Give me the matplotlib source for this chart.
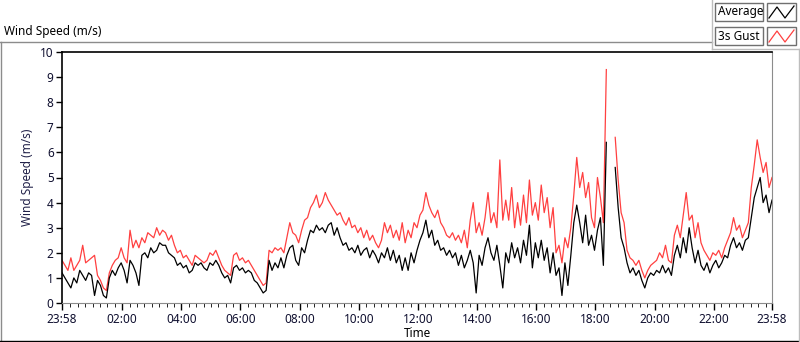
import numpy as np
import matplotlib.pyplot as plt
from matplotlib.lines import Line2D
from matplotlib.patches import Rectangle

W, H = 800, 342

# wind speed samples, one every 6 minutes starting 23:58 (m/s)
avg_speed = [
    1.2, 1.0, 0.8, 0.6, 1.0, 0.8, 1.3, 1.1, 0.9, 1.2,
    1.1, 0.3, 0.9, 0.7, 0.3, 0.2, 1.0, 1.3, 1.1, 1.4,
    1.6, 1.3, 0.8, 1.7, 1.5, 1.2, 0.7, 1.9, 2.0, 1.8,
    2.2, 2.0, 2.1, 2.4, 2.3, 2.3, 2.0, 1.9, 1.8, 1.5,
    1.6, 1.4, 1.5, 1.2, 1.3, 1.6, 1.5, 1.6, 1.4, 1.3,
    1.6, 1.5, 1.7, 1.5, 1.2, 1.0, 1.1, 0.8, 1.4, 1.5,
    1.3, 1.4, 1.2, 1.3, 1.2, 0.9, 0.8, 0.6, 0.4, 0.5,
    1.7, 1.3, 1.6, 1.4, 1.8, 1.4, 1.9, 2.2, 2.3, 1.7,
    1.5, 2.2, 2.0, 2.5, 2.9, 2.8, 3.1, 2.9, 3.0, 2.8,
    3.1, 3.2, 2.7, 3.0, 2.6, 2.3, 2.4, 2.1, 2.2, 2.0,
    2.3, 1.9, 2.1, 2.2, 1.8, 2.1, 1.9, 1.6, 2.0, 1.8,
    2.2, 1.7, 2.1, 1.6, 1.9, 1.3, 1.8, 1.3, 2.0, 1.6,
    2.1, 2.5, 2.8, 3.3, 2.6, 2.9, 2.3, 2.5, 2.1, 2.2,
    1.9, 2.1, 1.8, 2.0, 1.5, 1.9, 1.4, 1.7, 2.1, 1.6,
    0.4, 1.9, 1.5, 2.2, 2.6, 2.0, 1.7, 2.3, 1.5, 0.6,
    2.0, 1.6, 2.4, 1.8, 2.2, 1.6, 2.5, 1.9, 3.1, 1.4,
    2.4, 1.8, 2.5, 1.7, 2.2, 1.2, 2.0, 1.1, 1.4, 0.3,
    1.6, 0.7, 1.9, 3.2, 3.9, 3.2, 2.4, 3.5, 2.3, 2.7,
    2.1, 2.9, 3.4, 1.5, 6.4, np.nan, np.nan, 5.4, 3.8, 2.6,
    2.2, 1.6, 1.2, 1.4, 1.1, 1.3, 0.9, 0.6, 1.0, 1.2,
    1.1, 1.3, 1.2, 1.5, 1.2, 1.4, 1.1, 1.9, 2.3, 1.8,
    2.6, 2.0, 3.0, 2.2, 1.6, 2.1, 1.5, 1.3, 1.6, 1.2,
    1.5, 1.7, 1.4, 1.6, 1.9, 1.8, 2.3, 2.6, 2.2, 2.4,
    2.1, 2.5, 2.6, 3.4, 4.2, 4.6, 5.0, 4.0, 4.3, 3.6,
    4.1,
]
gust_speed = [
    1.7, 1.5, 1.3, 1.8, 1.3, 1.5, 1.7, 2.3, 1.6, 1.7,
    1.8, 1.9, 1.1, 0.9, 0.6, 0.5, 1.2, 1.5, 1.7, 1.8,
    2.2, 1.8, 1.6, 2.9, 2.2, 2.5, 2.2, 2.6, 2.4, 2.8,
    2.7, 2.6, 3.0, 2.7, 2.9, 2.8, 2.5, 2.7, 2.3, 2.0,
    2.1, 1.8, 1.9, 1.7, 1.5, 1.9, 1.8, 1.7, 1.6, 1.7,
    2.0, 1.9, 2.1, 1.8, 1.5, 1.3, 1.2, 1.1, 1.9, 2.0,
    1.7, 1.8, 1.6, 1.7, 1.5, 1.3, 1.1, 0.9, 0.7, 0.8,
    2.1, 2.0, 2.2, 2.1, 2.2, 2.0, 2.6, 3.2, 2.8, 2.7,
    2.4, 2.9, 3.3, 3.4, 3.8, 4.0, 4.3, 3.8, 4.0, 4.4,
    4.1, 3.9, 3.7, 3.5, 3.6, 3.3, 3.1, 3.4, 3.0, 3.1,
    2.8, 3.0, 2.6, 2.9, 2.5, 2.7, 2.4, 2.2, 2.5, 3.2,
    2.8, 3.1, 2.6, 2.9, 2.5, 3.2, 2.4, 2.9, 2.6, 3.2,
    3.0, 3.5, 3.7, 4.4, 3.9, 3.6, 3.4, 3.7, 3.2, 3.0,
    2.7, 2.6, 2.8, 2.5, 2.7, 2.4, 2.9, 2.2, 3.3, 4.0,
    2.8, 3.2, 2.7, 3.4, 4.4, 3.2, 3.6, 3.0, 5.7, 3.3,
    4.1, 3.3, 4.6, 3.0, 4.0, 3.1, 4.3, 3.2, 4.9, 3.5,
    4.0, 3.3, 4.7, 3.6, 4.2, 3.0, 3.8, 2.0, 2.3, 1.6,
    2.6, 2.2, 3.0, 4.3, 5.8, 4.6, 5.2, 4.2, 4.8, 3.4,
    3.0, 5.0, 4.2, 3.2, 9.3, np.nan, np.nan, 6.6, 4.9, 3.6,
    3.2, 2.1, 1.8, 1.7, 1.5, 1.7, 1.3, 1.0, 1.3, 1.5,
    1.6, 1.7, 2.0, 1.8, 2.3, 1.7, 1.6, 2.7, 3.1, 2.6,
    3.5, 4.4, 3.3, 3.5, 2.6, 3.2, 2.4, 2.1, 1.9, 1.7,
    2.0, 1.9, 2.1, 1.8, 2.2, 2.5, 2.8, 3.4, 2.9, 3.1,
    2.6, 2.9, 3.2, 4.6, 5.5, 6.5, 5.8, 5.2, 5.6, 4.6,
    5.0,
]
sample_step = 6  # minutes

tick_minutes = [0, 122, 242, 362, 482, 602, 722, 842, 962, 1082, 1202, 1322, 1440]
tick_labels = ["23:58", "02:00", "04:00", "06:00", "08:00", "10:00", "12:00",
               "14:00", "16:00", "18:00", "20:00", "22:00", "23:58"]

minutes = np.arange(len(avg_speed)) * sample_step

plt.rcParams['font.family'] = ['Noto Sans', 'DejaVu Sans']
plt.rcParams['font.size'] = 8.5

fig = plt.figure(figsize=(W / 100, H / 100), dpi=100)


def fx(x):
    return x / W


def fy(y):
    return 1 - y / H


ax = fig.add_axes([fx(62), fy(303), fx(772) - fx(62), fy(52) - fy(303)])
ax.plot(minutes, gust_speed, color='#ff4040', lw=0.9)
ax.plot(minutes, avg_speed, color='black', lw=0.9)

ax.set_xlim(0, 1440)
ax.set_ylim(0, 10)
ax.set_yticks(range(0, 11))
ax.set_xticks(tick_minutes)
ax.set_xticklabels(tick_labels)
ax.set_xticks([m for m in range(17, 1440, 15) if m not in tick_minutes], minor=True)
ax.tick_params(axis='both', direction='out', colors='black', labelcolor='#101030',
               labelsize=8.5, width=1)
ax.tick_params(axis='x', which='major', length=5, pad=2)
ax.tick_params(axis='x', which='minor', length=3)
ax.tick_params(axis='y', length=4, pad=2)

ax.spines['top'].set_color('black')
ax.spines['left'].set_color('black')
ax.spines['right'].set_color('#8c8c8c')
ax.spines['bottom'].set_color('#8c8c8c')
ax.spines['left'].set_linewidth(1.2)
ax.spines['top'].set_linewidth(1.2)

ax.set_ylabel("Wind Speed (m/s)", color='#202048', labelpad=4)
ax.set_xlabel("Time", labelpad=1, x=0.5)

# outer frame lines
fig.add_artist(Line2D([0, fx(712)], [fy(42), fy(42)], color='#8c8c8c', lw=1))
fig.add_artist(Line2D([fx(0.5), fx(0.5)], [fy(42), 0], color='#8c8c8c', lw=1))
fig.add_artist(Line2D([0, 1], [fy(341), fy(341)], color='black', lw=1))
fig.add_artist(Line2D([fx(712), fx(712)], [1, fy(49)], color='#bdbdbd', lw=1))
fig.add_artist(Line2D([fx(712), 1], [fy(49), fy(49)], color='#bdbdbd', lw=1))
fig.add_artist(Line2D([fx(799), fx(799)], [fy(49), 0], color='#bdbdbd', lw=1))

fig.text(fx(4), fy(32), "Wind Speed (m/s)", va='center', ha='left', fontsize=8.5)

# legend, drawn like the LabVIEW plot legend
legend_rows = [("Average", 'black', 12), ("3s Gust", '#ff4040', 36)]
for name, col, yc in legend_rows:
    fig.add_artist(Rectangle((fx(715), fy(yc + 9)), fx(48), fy(0) - fy(18),
                             facecolor='white', edgecolor='#707070', lw=1))
    fig.add_artist(Rectangle((fx(767), fy(yc + 9)), fx(29), fy(0) - fy(18),
                             facecolor='white', edgecolor='#707070', lw=1))
    fig.text(fx(718), fy(yc), name, va='center', ha='left', fontsize=8.5)
    zx = [769, 777, 785, 794]
    zy = [yc + 6, yc - 5, yc + 6, yc - 6]
    fig.add_artist(Line2D([fx(v) for v in zx], [fy(v) for v in zy], color=col, lw=0.9))

fig.savefig("out.png", dpi=100)
